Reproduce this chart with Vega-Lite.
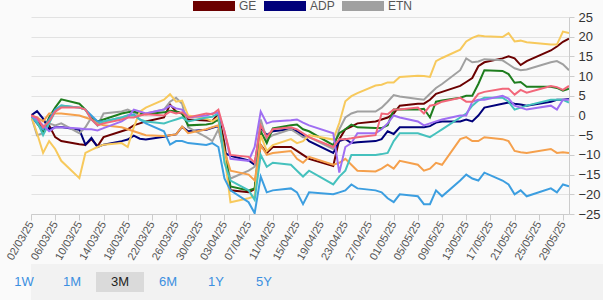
{
  "$schema": "https://vega.github.io/schema/vega-lite/v6.json",
  "background": "#fafafa",
  "padding": {"left": 4, "top": 0, "right": 0, "bottom": 0},
  "spacing": 2,
  "align": "none",
  "config": {"view": {"stroke": null}, "font": "Liberation Sans"},
  "resolve": {"scale": {"x": "independent", "y": "independent", "color": "independent"}, "legend": {"color": "independent"}},
  "vconcat": [
    {
      "width": 538,
      "height": 197,
      "data": {"values": [
        {"s":"GE","d":"2025/03/02","v":0},{"s":"GE","d":"2025/03/03","v":-1.5},{"s":"GE","d":"2025/03/04","v":-3},{"s":"GE","d":"2025/03/05","v":-2.5},{"s":"GE","d":"2025/03/06","v":-5.5},{"s":"GE","d":"2025/03/07","v":-6.5},{"s":"GE","d":"2025/03/10","v":-7.3},{"s":"GE","d":"2025/03/11","v":-7.5},{"s":"GE","d":"2025/03/12","v":-6},{"s":"GE","d":"2025/03/13","v":-7.8},{"s":"GE","d":"2025/03/14","v":-5.5},{"s":"GE","d":"2025/03/17","v":-4},{"s":"GE","d":"2025/03/18","v":-3.5},{"s":"GE","d":"2025/03/19","v":-2.5},{"s":"GE","d":"2025/03/20","v":-2},{"s":"GE","d":"2025/03/21","v":-1.5},{"s":"GE","d":"2025/03/24","v":-0.5},{"s":"GE","d":"2025/03/25","v":2.8},{"s":"GE","d":"2025/03/26","v":1},{"s":"GE","d":"2025/03/27","v":0.5},{"s":"GE","d":"2025/03/28","v":-1},{"s":"GE","d":"2025/03/31","v":-1.3},{"s":"GE","d":"2025/04/01","v":-1.4},{"s":"GE","d":"2025/04/02","v":0.5},{"s":"GE","d":"2025/04/03","v":-7},{"s":"GE","d":"2025/04/04","v":-19},{"s":"GE","d":"2025/04/07","v":-19.5},{"s":"GE","d":"2025/04/08","v":-18.7},{"s":"GE","d":"2025/04/09","v":-7.5},{"s":"GE","d":"2025/04/10","v":-9.5},{"s":"GE","d":"2025/04/11","v":-8},{"s":"GE","d":"2025/04/14","v":-8},{"s":"GE","d":"2025/04/15","v":-9},{"s":"GE","d":"2025/04/16","v":-10},{"s":"GE","d":"2025/04/17","v":-11},{"s":"GE","d":"2025/04/21","v":-12.8},{"s":"GE","d":"2025/04/22","v":-6},{"s":"GE","d":"2025/04/23","v":-3.5},{"s":"GE","d":"2025/04/24","v":-2.8},{"s":"GE","d":"2025/04/25","v":-2},{"s":"GE","d":"2025/04/28","v":-1.5},{"s":"GE","d":"2025/04/29","v":-1},{"s":"GE","d":"2025/04/30","v":-0.5},{"s":"GE","d":"2025/05/01","v":0.5},{"s":"GE","d":"2025/05/02","v":2.5},{"s":"GE","d":"2025/05/05","v":3},{"s":"GE","d":"2025/05/06","v":3},{"s":"GE","d":"2025/05/07","v":4},{"s":"GE","d":"2025/05/08","v":5.5},{"s":"GE","d":"2025/05/09","v":6},{"s":"GE","d":"2025/05/12","v":7.5},{"s":"GE","d":"2025/05/13","v":8.5},{"s":"GE","d":"2025/05/14","v":9.5},{"s":"GE","d":"2025/05/15","v":12.5},{"s":"GE","d":"2025/05/16","v":13.5},{"s":"GE","d":"2025/05/19","v":14.5},{"s":"GE","d":"2025/05/20","v":15},{"s":"GE","d":"2025/05/21","v":14.5},{"s":"GE","d":"2025/05/22","v":12.8},{"s":"GE","d":"2025/05/23","v":13.8},{"s":"GE","d":"2025/05/27","v":16.5},{"s":"GE","d":"2025/05/28","v":17.5},{"s":"GE","d":"2025/05/29","v":18.7},{"s":"GE","d":"2025/05/30","v":19.5},

        {"s":"ADP","d":"2025/03/02","v":0},{"s":"ADP","d":"2025/03/03","v":1.1},{"s":"ADP","d":"2025/03/04","v":-0.8},{"s":"ADP","d":"2025/03/05","v":-3.5},{"s":"ADP","d":"2025/03/06","v":-3},{"s":"ADP","d":"2025/03/07","v":-2.9},{"s":"ADP","d":"2025/03/10","v":-3.6},{"s":"ADP","d":"2025/03/11","v":-7.4},{"s":"ADP","d":"2025/03/12","v":-5.7},{"s":"ADP","d":"2025/03/13","v":-8},{"s":"ADP","d":"2025/03/14","v":-7.4},{"s":"ADP","d":"2025/03/17","v":-6.5},{"s":"ADP","d":"2025/03/18","v":-6.1},{"s":"ADP","d":"2025/03/19","v":-5.1},{"s":"ADP","d":"2025/03/20","v":-5.9},{"s":"ADP","d":"2025/03/21","v":-6.1},{"s":"ADP","d":"2025/03/24","v":-5.4},{"s":"ADP","d":"2025/03/25","v":-5},{"s":"ADP","d":"2025/03/26","v":-4.8},{"s":"ADP","d":"2025/03/27","v":-2.9},{"s":"ADP","d":"2025/03/28","v":-4},{"s":"ADP","d":"2025/03/31","v":-3.6},{"s":"ADP","d":"2025/04/01","v":-3.1},{"s":"ADP","d":"2025/04/02","v":-2.7},{"s":"ADP","d":"2025/04/03","v":-9.5},{"s":"ADP","d":"2025/04/04","v":-10.2},{"s":"ADP","d":"2025/04/07","v":-11.4},{"s":"ADP","d":"2025/04/08","v":-12.5},{"s":"ADP","d":"2025/04/09","v":-3},{"s":"ADP","d":"2025/04/10","v":-5},{"s":"ADP","d":"2025/04/11","v":-4},{"s":"ADP","d":"2025/04/14","v":-3.5},{"s":"ADP","d":"2025/04/15","v":-4},{"s":"ADP","d":"2025/04/16","v":-5},{"s":"ADP","d":"2025/04/17","v":-6.5},{"s":"ADP","d":"2025/04/21","v":-9.5},{"s":"ADP","d":"2025/04/22","v":-6.5},{"s":"ADP","d":"2025/04/23","v":-6},{"s":"ADP","d":"2025/04/24","v":-7},{"s":"ADP","d":"2025/04/25","v":-6.8},{"s":"ADP","d":"2025/04/28","v":-6.5},{"s":"ADP","d":"2025/04/29","v":-6},{"s":"ADP","d":"2025/04/30","v":-4},{"s":"ADP","d":"2025/05/01","v":-4.7},{"s":"ADP","d":"2025/05/02","v":-3},{"s":"ADP","d":"2025/05/05","v":-3},{"s":"ADP","d":"2025/05/06","v":-3},{"s":"ADP","d":"2025/05/07","v":-2.7},{"s":"ADP","d":"2025/05/08","v":-1.8},{"s":"ADP","d":"2025/05/09","v":-1.5},{"s":"ADP","d":"2025/05/12","v":-1.5},{"s":"ADP","d":"2025/05/13","v":-1},{"s":"ADP","d":"2025/05/14","v":-1.5},{"s":"ADP","d":"2025/05/15","v":0},{"s":"ADP","d":"2025/05/16","v":2},{"s":"ADP","d":"2025/05/19","v":3},{"s":"ADP","d":"2025/05/20","v":3.3},{"s":"ADP","d":"2025/05/21","v":3},{"s":"ADP","d":"2025/05/22","v":2.8},{"s":"ADP","d":"2025/05/23","v":2.5},{"s":"ADP","d":"2025/05/27","v":3.5},{"s":"ADP","d":"2025/05/28","v":4},{"s":"ADP","d":"2025/05/29","v":4},{"s":"ADP","d":"2025/05/30","v":4.2},

        {"s":"ETN","d":"2025/03/02","v":0},{"s":"ETN","d":"2025/03/03","v":-5},{"s":"ETN","d":"2025/03/04","v":-4.5},{"s":"ETN","d":"2025/03/05","v":-2},{"s":"ETN","d":"2025/03/06","v":-2.5},{"s":"ETN","d":"2025/03/07","v":-2},{"s":"ETN","d":"2025/03/10","v":-4.5},{"s":"ETN","d":"2025/03/11","v":-3},{"s":"ETN","d":"2025/03/12","v":-0.5},{"s":"ETN","d":"2025/03/13","v":-2.5},{"s":"ETN","d":"2025/03/14","v":0.5},{"s":"ETN","d":"2025/03/17","v":1},{"s":"ETN","d":"2025/03/18","v":1.5},{"s":"ETN","d":"2025/03/19","v":0.8},{"s":"ETN","d":"2025/03/20","v":0},{"s":"ETN","d":"2025/03/21","v":0.5},{"s":"ETN","d":"2025/03/24","v":1.5},{"s":"ETN","d":"2025/03/25","v":3.5},{"s":"ETN","d":"2025/03/26","v":4.5},{"s":"ETN","d":"2025/03/27","v":3},{"s":"ETN","d":"2025/03/28","v":-3},{"s":"ETN","d":"2025/03/31","v":-5.5},{"s":"ETN","d":"2025/04/01","v":-6.5},{"s":"ETN","d":"2025/04/02","v":-3.5},{"s":"ETN","d":"2025/04/03","v":-10},{"s":"ETN","d":"2025/04/04","v":-16},{"s":"ETN","d":"2025/04/07","v":-14},{"s":"ETN","d":"2025/04/08","v":-13},{"s":"ETN","d":"2025/04/09","v":-1},{"s":"ETN","d":"2025/04/10","v":-6},{"s":"ETN","d":"2025/04/11","v":-5},{"s":"ETN","d":"2025/04/14","v":-3.5},{"s":"ETN","d":"2025/04/15","v":-4.5},{"s":"ETN","d":"2025/04/16","v":-5.5},{"s":"ETN","d":"2025/04/17","v":-5.5},{"s":"ETN","d":"2025/04/21","v":-8.5},{"s":"ETN","d":"2025/04/22","v":-3.5},{"s":"ETN","d":"2025/04/23","v":-0.5},{"s":"ETN","d":"2025/04/24","v":0.5},{"s":"ETN","d":"2025/04/25","v":1},{"s":"ETN","d":"2025/04/28","v":1},{"s":"ETN","d":"2025/04/29","v":2},{"s":"ETN","d":"2025/04/30","v":3.5},{"s":"ETN","d":"2025/05/01","v":5.2},{"s":"ETN","d":"2025/05/02","v":4.8},{"s":"ETN","d":"2025/05/05","v":4.2},{"s":"ETN","d":"2025/05/06","v":4},{"s":"ETN","d":"2025/05/07","v":5.5},{"s":"ETN","d":"2025/05/08","v":7},{"s":"ETN","d":"2025/05/09","v":8},{"s":"ETN","d":"2025/05/12","v":11.5},{"s":"ETN","d":"2025/05/13","v":14.5},{"s":"ETN","d":"2025/05/14","v":13.5},{"s":"ETN","d":"2025/05/15","v":13.7},{"s":"ETN","d":"2025/05/16","v":14.3},{"s":"ETN","d":"2025/05/19","v":14},{"s":"ETN","d":"2025/05/20","v":13},{"s":"ETN","d":"2025/05/21","v":12},{"s":"ETN","d":"2025/05/22","v":11.5},{"s":"ETN","d":"2025/05/23","v":11.7},{"s":"ETN","d":"2025/05/27","v":13.5},{"s":"ETN","d":"2025/05/28","v":13.8},{"s":"ETN","d":"2025/05/29","v":13},{"s":"ETN","d":"2025/05/30","v":11.5},

        {"s":"Peer A","d":"2025/03/02","v":0},{"s":"Peer A","d":"2025/03/03","v":-2},{"s":"Peer A","d":"2025/03/04","v":-4},{"s":"Peer A","d":"2025/03/05","v":-0.5},{"s":"Peer A","d":"2025/03/06","v":2},{"s":"Peer A","d":"2025/03/07","v":4.1},{"s":"Peer A","d":"2025/03/10","v":3},{"s":"Peer A","d":"2025/03/11","v":1.5},{"s":"Peer A","d":"2025/03/12","v":-0.5},{"s":"Peer A","d":"2025/03/13","v":-1.5},{"s":"Peer A","d":"2025/03/14","v":-1},{"s":"Peer A","d":"2025/03/17","v":0.5},{"s":"Peer A","d":"2025/03/18","v":0.8},{"s":"Peer A","d":"2025/03/19","v":1},{"s":"Peer A","d":"2025/03/20","v":0.5},{"s":"Peer A","d":"2025/03/21","v":0.3},{"s":"Peer A","d":"2025/03/24","v":0.8},{"s":"Peer A","d":"2025/03/25","v":1.2},{"s":"Peer A","d":"2025/03/26","v":1},{"s":"Peer A","d":"2025/03/27","v":0.5},{"s":"Peer A","d":"2025/03/28","v":-2.5},{"s":"Peer A","d":"2025/03/31","v":-2.3},{"s":"Peer A","d":"2025/04/01","v":-2},{"s":"Peer A","d":"2025/04/02","v":-1},{"s":"Peer A","d":"2025/04/03","v":-8.5},{"s":"Peer A","d":"2025/04/04","v":-18},{"s":"Peer A","d":"2025/04/07","v":-19},{"s":"Peer A","d":"2025/04/08","v":-18.5},{"s":"Peer A","d":"2025/04/09","v":-4},{"s":"Peer A","d":"2025/04/10","v":-7},{"s":"Peer A","d":"2025/04/11","v":-3.3},{"s":"Peer A","d":"2025/04/14","v":-2.5},{"s":"Peer A","d":"2025/04/15","v":-2.3},{"s":"Peer A","d":"2025/04/16","v":-3.5},{"s":"Peer A","d":"2025/04/17","v":-4},{"s":"Peer A","d":"2025/04/21","v":-7.5},{"s":"Peer A","d":"2025/04/22","v":-4.5},{"s":"Peer A","d":"2025/04/23","v":-3.5},{"s":"Peer A","d":"2025/04/24","v":-2.3},{"s":"Peer A","d":"2025/04/25","v":-3},{"s":"Peer A","d":"2025/04/28","v":-3.2},{"s":"Peer A","d":"2025/04/29","v":-3.2},{"s":"Peer A","d":"2025/04/30","v":-2.5},{"s":"Peer A","d":"2025/05/01","v":1.5},{"s":"Peer A","d":"2025/05/02","v":1.5},{"s":"Peer A","d":"2025/05/05","v":1.5},{"s":"Peer A","d":"2025/05/06","v":1.7},{"s":"Peer A","d":"2025/05/07","v":-0.5},{"s":"Peer A","d":"2025/05/08","v":3.5},{"s":"Peer A","d":"2025/05/09","v":3.8},{"s":"Peer A","d":"2025/05/12","v":4.5},{"s":"Peer A","d":"2025/05/13","v":5},{"s":"Peer A","d":"2025/05/14","v":5},{"s":"Peer A","d":"2025/05/15","v":8},{"s":"Peer A","d":"2025/05/16","v":11.5},{"s":"Peer A","d":"2025/05/19","v":11.3},{"s":"Peer A","d":"2025/05/20","v":10.5},{"s":"Peer A","d":"2025/05/21","v":8.3},{"s":"Peer A","d":"2025/05/22","v":8.5},{"s":"Peer A","d":"2025/05/23","v":7.3},{"s":"Peer A","d":"2025/05/27","v":7.3},{"s":"Peer A","d":"2025/05/28","v":7},{"s":"Peer A","d":"2025/05/29","v":6.3},{"s":"Peer A","d":"2025/05/30","v":6.8},

        {"s":"Peer B","d":"2025/03/02","v":0},{"s":"Peer B","d":"2025/03/03","v":-4.5},{"s":"Peer B","d":"2025/03/04","v":-9.5},{"s":"Peer B","d":"2025/03/05","v":-6.5},{"s":"Peer B","d":"2025/03/06","v":-8.5},{"s":"Peer B","d":"2025/03/07","v":-11.5},{"s":"Peer B","d":"2025/03/10","v":-15.9},{"s":"Peer B","d":"2025/03/11","v":-9.5},{"s":"Peer B","d":"2025/03/12","v":-8.7},{"s":"Peer B","d":"2025/03/13","v":-8},{"s":"Peer B","d":"2025/03/14","v":-7.4},{"s":"Peer B","d":"2025/03/17","v":-7},{"s":"Peer B","d":"2025/03/18","v":-8},{"s":"Peer B","d":"2025/03/19","v":-3},{"s":"Peer B","d":"2025/03/20","v":1},{"s":"Peer B","d":"2025/03/21","v":2},{"s":"Peer B","d":"2025/03/24","v":4},{"s":"Peer B","d":"2025/03/25","v":5.4},{"s":"Peer B","d":"2025/03/26","v":3.5},{"s":"Peer B","d":"2025/03/27","v":3.8},{"s":"Peer B","d":"2025/03/28","v":0},{"s":"Peer B","d":"2025/03/31","v":-0.8},{"s":"Peer B","d":"2025/04/01","v":-1.5},{"s":"Peer B","d":"2025/04/02","v":-0.5},{"s":"Peer B","d":"2025/04/03","v":-10},{"s":"Peer B","d":"2025/04/04","v":-22},{"s":"Peer B","d":"2025/04/07","v":-21},{"s":"Peer B","d":"2025/04/08","v":-20.5},{"s":"Peer B","d":"2025/04/09","v":-5},{"s":"Peer B","d":"2025/04/10","v":-9},{"s":"Peer B","d":"2025/04/11","v":-7.5},{"s":"Peer B","d":"2025/04/14","v":-6},{"s":"Peer B","d":"2025/04/15","v":-7},{"s":"Peer B","d":"2025/04/16","v":-6.5},{"s":"Peer B","d":"2025/04/17","v":-5},{"s":"Peer B","d":"2025/04/21","v":-6.1},{"s":"Peer B","d":"2025/04/22","v":-1.9},{"s":"Peer B","d":"2025/04/23","v":3.6},{"s":"Peer B","d":"2025/04/24","v":4.9},{"s":"Peer B","d":"2025/04/25","v":5.7},{"s":"Peer B","d":"2025/04/28","v":7.6},{"s":"Peer B","d":"2025/04/29","v":7.8},{"s":"Peer B","d":"2025/04/30","v":8.4},{"s":"Peer B","d":"2025/05/01","v":8.4},{"s":"Peer B","d":"2025/05/02","v":9.8},{"s":"Peer B","d":"2025/05/05","v":10.1},{"s":"Peer B","d":"2025/05/06","v":10},{"s":"Peer B","d":"2025/05/07","v":9.8},{"s":"Peer B","d":"2025/05/08","v":13.8},{"s":"Peer B","d":"2025/05/09","v":14.6},{"s":"Peer B","d":"2025/05/12","v":16.7},{"s":"Peer B","d":"2025/05/13","v":18.8},{"s":"Peer B","d":"2025/05/14","v":19.7},{"s":"Peer B","d":"2025/05/15","v":20.3},{"s":"Peer B","d":"2025/05/16","v":20.1},{"s":"Peer B","d":"2025/05/19","v":19.9},{"s":"Peer B","d":"2025/05/20","v":20.9},{"s":"Peer B","d":"2025/05/21","v":18.8},{"s":"Peer B","d":"2025/05/22","v":19},{"s":"Peer B","d":"2025/05/23","v":18.6},{"s":"Peer B","d":"2025/05/27","v":18},{"s":"Peer B","d":"2025/05/28","v":18},{"s":"Peer B","d":"2025/05/29","v":21.3},{"s":"Peer B","d":"2025/05/30","v":20.9},

        {"s":"Peer C","d":"2025/03/02","v":0},{"s":"Peer C","d":"2025/03/03","v":-0.5},{"s":"Peer C","d":"2025/03/04","v":-1.5},{"s":"Peer C","d":"2025/03/05","v":0.5},{"s":"Peer C","d":"2025/03/06","v":0.5},{"s":"Peer C","d":"2025/03/07","v":0.5},{"s":"Peer C","d":"2025/03/10","v":0},{"s":"Peer C","d":"2025/03/11","v":-0.5},{"s":"Peer C","d":"2025/03/12","v":-1},{"s":"Peer C","d":"2025/03/13","v":-2},{"s":"Peer C","d":"2025/03/14","v":-2.5},{"s":"Peer C","d":"2025/03/17","v":-3},{"s":"Peer C","d":"2025/03/18","v":-3.5},{"s":"Peer C","d":"2025/03/19","v":-4},{"s":"Peer C","d":"2025/03/20","v":-4.5},{"s":"Peer C","d":"2025/03/21","v":-5},{"s":"Peer C","d":"2025/03/24","v":-5.2},{"s":"Peer C","d":"2025/03/25","v":-5},{"s":"Peer C","d":"2025/03/26","v":-4.8},{"s":"Peer C","d":"2025/03/27","v":-2.8},{"s":"Peer C","d":"2025/03/28","v":-4.5},{"s":"Peer C","d":"2025/03/31","v":-3.5},{"s":"Peer C","d":"2025/04/01","v":-3},{"s":"Peer C","d":"2025/04/02","v":-2.5},{"s":"Peer C","d":"2025/04/03","v":-9},{"s":"Peer C","d":"2025/04/04","v":-14},{"s":"Peer C","d":"2025/04/07","v":-15},{"s":"Peer C","d":"2025/04/08","v":-16.5},{"s":"Peer C","d":"2025/04/09","v":-7.5},{"s":"Peer C","d":"2025/04/10","v":-10},{"s":"Peer C","d":"2025/04/11","v":-9.5},{"s":"Peer C","d":"2025/04/14","v":-9},{"s":"Peer C","d":"2025/04/15","v":-11},{"s":"Peer C","d":"2025/04/16","v":-12},{"s":"Peer C","d":"2025/04/17","v":-10.5},{"s":"Peer C","d":"2025/04/21","v":-12.5},{"s":"Peer C","d":"2025/04/22","v":-12},{"s":"Peer C","d":"2025/04/23","v":-11},{"s":"Peer C","d":"2025/04/24","v":-12.5},{"s":"Peer C","d":"2025/04/25","v":-14},{"s":"Peer C","d":"2025/04/28","v":-14.2},{"s":"Peer C","d":"2025/04/29","v":-13.5},{"s":"Peer C","d":"2025/04/30","v":-12.5},{"s":"Peer C","d":"2025/05/01","v":-13.5},{"s":"Peer C","d":"2025/05/02","v":-11.5},{"s":"Peer C","d":"2025/05/05","v":-12.5},{"s":"Peer C","d":"2025/05/06","v":-14},{"s":"Peer C","d":"2025/05/07","v":-13.5},{"s":"Peer C","d":"2025/05/08","v":-12},{"s":"Peer C","d":"2025/05/09","v":-12.5},{"s":"Peer C","d":"2025/05/12","v":-6},{"s":"Peer C","d":"2025/05/13","v":-5.5},{"s":"Peer C","d":"2025/05/14","v":-6.5},{"s":"Peer C","d":"2025/05/15","v":-6.5},{"s":"Peer C","d":"2025/05/16","v":-5.5},{"s":"Peer C","d":"2025/05/19","v":-6},{"s":"Peer C","d":"2025/05/20","v":-6.5},{"s":"Peer C","d":"2025/05/21","v":-9},{"s":"Peer C","d":"2025/05/22","v":-9.3},{"s":"Peer C","d":"2025/05/23","v":-9.5},{"s":"Peer C","d":"2025/05/27","v":-8.5},{"s":"Peer C","d":"2025/05/28","v":-9.5},{"s":"Peer C","d":"2025/05/29","v":-9.3},{"s":"Peer C","d":"2025/05/30","v":-9.5},

        {"s":"Peer D","d":"2025/03/02","v":0},{"s":"Peer D","d":"2025/03/03","v":-2},{"s":"Peer D","d":"2025/03/04","v":-3.5},{"s":"Peer D","d":"2025/03/05","v":-1},{"s":"Peer D","d":"2025/03/06","v":1.5},{"s":"Peer D","d":"2025/03/07","v":2.5},{"s":"Peer D","d":"2025/03/10","v":2},{"s":"Peer D","d":"2025/03/11","v":1.5},{"s":"Peer D","d":"2025/03/12","v":0},{"s":"Peer D","d":"2025/03/13","v":-1.5},{"s":"Peer D","d":"2025/03/14","v":-1.5},{"s":"Peer D","d":"2025/03/17","v":-0.5},{"s":"Peer D","d":"2025/03/18","v":0},{"s":"Peer D","d":"2025/03/19","v":0.3},{"s":"Peer D","d":"2025/03/20","v":-1},{"s":"Peer D","d":"2025/03/21","v":-2},{"s":"Peer D","d":"2025/03/24","v":-4},{"s":"Peer D","d":"2025/03/25","v":-7.4},{"s":"Peer D","d":"2025/03/26","v":-6.5},{"s":"Peer D","d":"2025/03/27","v":-6.5},{"s":"Peer D","d":"2025/03/28","v":-7},{"s":"Peer D","d":"2025/03/31","v":-7.5},{"s":"Peer D","d":"2025/04/01","v":-7},{"s":"Peer D","d":"2025/04/02","v":-8},{"s":"Peer D","d":"2025/04/03","v":-16},{"s":"Peer D","d":"2025/04/04","v":-19},{"s":"Peer D","d":"2025/04/07","v":-22},{"s":"Peer D","d":"2025/04/08","v":-24.8},{"s":"Peer D","d":"2025/04/09","v":-15.5},{"s":"Peer D","d":"2025/04/10","v":-19.5},{"s":"Peer D","d":"2025/04/11","v":-19},{"s":"Peer D","d":"2025/04/14","v":-18.5},{"s":"Peer D","d":"2025/04/15","v":-19.5},{"s":"Peer D","d":"2025/04/16","v":-22.5},{"s":"Peer D","d":"2025/04/17","v":-19.5},{"s":"Peer D","d":"2025/04/21","v":-20},{"s":"Peer D","d":"2025/04/22","v":-19.5},{"s":"Peer D","d":"2025/04/23","v":-19},{"s":"Peer D","d":"2025/04/24","v":-17.5},{"s":"Peer D","d":"2025/04/25","v":-18.5},{"s":"Peer D","d":"2025/04/28","v":-19},{"s":"Peer D","d":"2025/04/29","v":-19.5},{"s":"Peer D","d":"2025/04/30","v":-21},{"s":"Peer D","d":"2025/05/01","v":-22},{"s":"Peer D","d":"2025/05/02","v":-20},{"s":"Peer D","d":"2025/05/05","v":-20.5},{"s":"Peer D","d":"2025/05/06","v":-22.5},{"s":"Peer D","d":"2025/05/07","v":-22.5},{"s":"Peer D","d":"2025/05/08","v":-19},{"s":"Peer D","d":"2025/05/09","v":-20.5},{"s":"Peer D","d":"2025/05/12","v":-16.5},{"s":"Peer D","d":"2025/05/13","v":-15},{"s":"Peer D","d":"2025/05/14","v":-16},{"s":"Peer D","d":"2025/05/15","v":-16.5},{"s":"Peer D","d":"2025/05/16","v":-14.5},{"s":"Peer D","d":"2025/05/19","v":-16.5},{"s":"Peer D","d":"2025/05/20","v":-17.5},{"s":"Peer D","d":"2025/05/21","v":-20},{"s":"Peer D","d":"2025/05/22","v":-19},{"s":"Peer D","d":"2025/05/23","v":-20.5},{"s":"Peer D","d":"2025/05/27","v":-18.5},{"s":"Peer D","d":"2025/05/28","v":-19.5},{"s":"Peer D","d":"2025/05/29","v":-17.5},{"s":"Peer D","d":"2025/05/30","v":-18},

        {"s":"Peer E","d":"2025/03/02","v":0},{"s":"Peer E","d":"2025/03/03","v":-1.5},{"s":"Peer E","d":"2025/03/04","v":-5},{"s":"Peer E","d":"2025/03/05","v":-2},{"s":"Peer E","d":"2025/03/06","v":1},{"s":"Peer E","d":"2025/03/07","v":2.5},{"s":"Peer E","d":"2025/03/10","v":2},{"s":"Peer E","d":"2025/03/11","v":1.5},{"s":"Peer E","d":"2025/03/12","v":-1},{"s":"Peer E","d":"2025/03/13","v":-2.5},{"s":"Peer E","d":"2025/03/14","v":-1.5},{"s":"Peer E","d":"2025/03/17","v":-0.5},{"s":"Peer E","d":"2025/03/18","v":0},{"s":"Peer E","d":"2025/03/19","v":0},{"s":"Peer E","d":"2025/03/20","v":-1},{"s":"Peer E","d":"2025/03/21","v":-1.5},{"s":"Peer E","d":"2025/03/24","v":-2},{"s":"Peer E","d":"2025/03/25","v":-1.5},{"s":"Peer E","d":"2025/03/26","v":-1},{"s":"Peer E","d":"2025/03/27","v":-0.5},{"s":"Peer E","d":"2025/03/28","v":-1.5},{"s":"Peer E","d":"2025/03/31","v":-0.5},{"s":"Peer E","d":"2025/04/01","v":-0.3},{"s":"Peer E","d":"2025/04/02","v":0.5},{"s":"Peer E","d":"2025/04/03","v":-12},{"s":"Peer E","d":"2025/04/04","v":-16.5},{"s":"Peer E","d":"2025/04/07","v":-19},{"s":"Peer E","d":"2025/04/08","v":-21.4},{"s":"Peer E","d":"2025/04/09","v":-10},{"s":"Peer E","d":"2025/04/10","v":-13},{"s":"Peer E","d":"2025/04/11","v":-12},{"s":"Peer E","d":"2025/04/14","v":-12.5},{"s":"Peer E","d":"2025/04/15","v":-14},{"s":"Peer E","d":"2025/04/16","v":-15.5},{"s":"Peer E","d":"2025/04/17","v":-14},{"s":"Peer E","d":"2025/04/21","v":-17.5},{"s":"Peer E","d":"2025/04/22","v":-15.5},{"s":"Peer E","d":"2025/04/23","v":-14},{"s":"Peer E","d":"2025/04/24","v":-10},{"s":"Peer E","d":"2025/04/25","v":-10},{"s":"Peer E","d":"2025/04/28","v":-10},{"s":"Peer E","d":"2025/04/29","v":-9.8},{"s":"Peer E","d":"2025/04/30","v":-9.5},{"s":"Peer E","d":"2025/05/01","v":-6.5},{"s":"Peer E","d":"2025/05/02","v":-4.5},{"s":"Peer E","d":"2025/05/05","v":-4.5},{"s":"Peer E","d":"2025/05/06","v":-5},{"s":"Peer E","d":"2025/05/07","v":-5.5},{"s":"Peer E","d":"2025/05/08","v":-4.5},{"s":"Peer E","d":"2025/05/09","v":-3.5},{"s":"Peer E","d":"2025/05/12","v":-0.5},{"s":"Peer E","d":"2025/05/13","v":0.5},{"s":"Peer E","d":"2025/05/14","v":2.5},{"s":"Peer E","d":"2025/05/15","v":3.8},{"s":"Peer E","d":"2025/05/16","v":4.5},{"s":"Peer E","d":"2025/05/19","v":4.5},{"s":"Peer E","d":"2025/05/20","v":3.5},{"s":"Peer E","d":"2025/05/21","v":1.5},{"s":"Peer E","d":"2025/05/22","v":2},{"s":"Peer E","d":"2025/05/23","v":2.5},{"s":"Peer E","d":"2025/05/27","v":4},{"s":"Peer E","d":"2025/05/28","v":4},{"s":"Peer E","d":"2025/05/29","v":4},{"s":"Peer E","d":"2025/05/30","v":3.3},

        {"s":"Peer F","d":"2025/03/02","v":0},{"s":"Peer F","d":"2025/03/03","v":-1},{"s":"Peer F","d":"2025/03/04","v":-2.5},{"s":"Peer F","d":"2025/03/05","v":-4},{"s":"Peer F","d":"2025/03/06","v":-3},{"s":"Peer F","d":"2025/03/07","v":-3},{"s":"Peer F","d":"2025/03/10","v":-3.3},{"s":"Peer F","d":"2025/03/11","v":-3.5},{"s":"Peer F","d":"2025/03/12","v":-3.5},{"s":"Peer F","d":"2025/03/13","v":-3.8},{"s":"Peer F","d":"2025/03/14","v":-3.2},{"s":"Peer F","d":"2025/03/17","v":-1.5},{"s":"Peer F","d":"2025/03/18","v":-0.5},{"s":"Peer F","d":"2025/03/19","v":1.5},{"s":"Peer F","d":"2025/03/20","v":1},{"s":"Peer F","d":"2025/03/21","v":0.5},{"s":"Peer F","d":"2025/03/24","v":1.5},{"s":"Peer F","d":"2025/03/25","v":2.5},{"s":"Peer F","d":"2025/03/26","v":1.8},{"s":"Peer F","d":"2025/03/27","v":1.5},{"s":"Peer F","d":"2025/03/28","v":-0.5},{"s":"Peer F","d":"2025/03/31","v":0},{"s":"Peer F","d":"2025/04/01","v":0.5},{"s":"Peer F","d":"2025/04/02","v":0.8},{"s":"Peer F","d":"2025/04/03","v":-4},{"s":"Peer F","d":"2025/04/04","v":-11},{"s":"Peer F","d":"2025/04/07","v":-11.5},{"s":"Peer F","d":"2025/04/08","v":-8},{"s":"Peer F","d":"2025/04/09","v":1},{"s":"Peer F","d":"2025/04/10","v":-2},{"s":"Peer F","d":"2025/04/11","v":-1.5},{"s":"Peer F","d":"2025/04/14","v":-1.2},{"s":"Peer F","d":"2025/04/15","v":-1},{"s":"Peer F","d":"2025/04/16","v":-1.8},{"s":"Peer F","d":"2025/04/17","v":-2.5},{"s":"Peer F","d":"2025/04/21","v":-4.5},{"s":"Peer F","d":"2025/04/22","v":-14.5},{"s":"Peer F","d":"2025/04/23","v":-8},{"s":"Peer F","d":"2025/04/24","v":-7},{"s":"Peer F","d":"2025/04/25","v":-4.5},{"s":"Peer F","d":"2025/04/28","v":-4.5},{"s":"Peer F","d":"2025/04/29","v":-3.5},{"s":"Peer F","d":"2025/04/30","v":-2},{"s":"Peer F","d":"2025/05/01","v":0},{"s":"Peer F","d":"2025/05/02","v":-0.5},{"s":"Peer F","d":"2025/05/05","v":-1.5},{"s":"Peer F","d":"2025/05/06","v":-2.5},{"s":"Peer F","d":"2025/05/07","v":-2},{"s":"Peer F","d":"2025/05/08","v":-1.5},{"s":"Peer F","d":"2025/05/09","v":-1},{"s":"Peer F","d":"2025/05/12","v":0},{"s":"Peer F","d":"2025/05/13","v":0},{"s":"Peer F","d":"2025/05/14","v":3.5},{"s":"Peer F","d":"2025/05/15","v":4},{"s":"Peer F","d":"2025/05/16","v":4},{"s":"Peer F","d":"2025/05/19","v":5},{"s":"Peer F","d":"2025/05/20","v":4.3},{"s":"Peer F","d":"2025/05/21","v":2.5},{"s":"Peer F","d":"2025/05/22","v":2},{"s":"Peer F","d":"2025/05/23","v":1.5},{"s":"Peer F","d":"2025/05/27","v":2.5},{"s":"Peer F","d":"2025/05/28","v":1.5},{"s":"Peer F","d":"2025/05/29","v":4},{"s":"Peer F","d":"2025/05/30","v":4},

        {"s":"Peer G","d":"2025/03/02","v":0},{"s":"Peer G","d":"2025/03/03","v":-0.5},{"s":"Peer G","d":"2025/03/04","v":-3},{"s":"Peer G","d":"2025/03/05","v":-1.5},{"s":"Peer G","d":"2025/03/06","v":1},{"s":"Peer G","d":"2025/03/07","v":2},{"s":"Peer G","d":"2025/03/10","v":2},{"s":"Peer G","d":"2025/03/11","v":1.5},{"s":"Peer G","d":"2025/03/12","v":-1},{"s":"Peer G","d":"2025/03/13","v":-2.5},{"s":"Peer G","d":"2025/03/14","v":-2},{"s":"Peer G","d":"2025/03/17","v":-1},{"s":"Peer G","d":"2025/03/18","v":-0.5},{"s":"Peer G","d":"2025/03/19","v":-0.5},{"s":"Peer G","d":"2025/03/20","v":0},{"s":"Peer G","d":"2025/03/21","v":0.3},{"s":"Peer G","d":"2025/03/24","v":0},{"s":"Peer G","d":"2025/03/25","v":1},{"s":"Peer G","d":"2025/03/26","v":0.5},{"s":"Peer G","d":"2025/03/27","v":0.8},{"s":"Peer G","d":"2025/03/28","v":-0.5},{"s":"Peer G","d":"2025/03/31","v":0.5},{"s":"Peer G","d":"2025/04/01","v":0.3},{"s":"Peer G","d":"2025/04/02","v":1.5},{"s":"Peer G","d":"2025/04/03","v":-4},{"s":"Peer G","d":"2025/04/04","v":-10},{"s":"Peer G","d":"2025/04/07","v":-10.5},{"s":"Peer G","d":"2025/04/08","v":-12},{"s":"Peer G","d":"2025/04/09","v":-2.5},{"s":"Peer G","d":"2025/04/10","v":-5.5},{"s":"Peer G","d":"2025/04/11","v":-3.5},{"s":"Peer G","d":"2025/04/14","v":-3},{"s":"Peer G","d":"2025/04/15","v":-3.5},{"s":"Peer G","d":"2025/04/16","v":-4.5},{"s":"Peer G","d":"2025/04/17","v":-5.5},{"s":"Peer G","d":"2025/04/21","v":-8},{"s":"Peer G","d":"2025/04/22","v":-6},{"s":"Peer G","d":"2025/04/23","v":-6},{"s":"Peer G","d":"2025/04/24","v":-5.8},{"s":"Peer G","d":"2025/04/25","v":-5.5},{"s":"Peer G","d":"2025/04/28","v":-5},{"s":"Peer G","d":"2025/04/29","v":0.5},{"s":"Peer G","d":"2025/04/30","v":0.3},{"s":"Peer G","d":"2025/05/01","v":1.5},{"s":"Peer G","d":"2025/05/02","v":1.5},{"s":"Peer G","d":"2025/05/05","v":2},{"s":"Peer G","d":"2025/05/06","v":0.5},{"s":"Peer G","d":"2025/05/07","v":2.5},{"s":"Peer G","d":"2025/05/08","v":2.8},{"s":"Peer G","d":"2025/05/09","v":3.5},{"s":"Peer G","d":"2025/05/12","v":4.5},{"s":"Peer G","d":"2025/05/13","v":3.5},{"s":"Peer G","d":"2025/05/14","v":3.5},{"s":"Peer G","d":"2025/05/15","v":5.5},{"s":"Peer G","d":"2025/05/16","v":6},{"s":"Peer G","d":"2025/05/19","v":6.8},{"s":"Peer G","d":"2025/05/20","v":6.8},{"s":"Peer G","d":"2025/05/21","v":5.3},{"s":"Peer G","d":"2025/05/22","v":6.5},{"s":"Peer G","d":"2025/05/23","v":5.8},{"s":"Peer G","d":"2025/05/27","v":7.5},{"s":"Peer G","d":"2025/05/28","v":7.2},{"s":"Peer G","d":"2025/05/29","v":6.5},{"s":"Peer G","d":"2025/05/30","v":7.5}
      ]},
      "mark": {"type": "line", "strokeWidth": 2, "clip": true},
      "encoding": {
        "x": {
          "field": "d", "type": "temporal",
          "scale": {"domain": [{"year": 2025, "month": 3, "date": 2}, {"year": 2025, "month": 5, "date": 30}]},
          "axis": {
            "title": null, "grid": false, "format": "%d/%m/%y",
            "values": [
              {"year": 2025, "month": 3, "date": 2}, {"year": 2025, "month": 3, "date": 6}, {"year": 2025, "month": 3, "date": 10},
              {"year": 2025, "month": 3, "date": 14}, {"year": 2025, "month": 3, "date": 18}, {"year": 2025, "month": 3, "date": 22},
              {"year": 2025, "month": 3, "date": 26}, {"year": 2025, "month": 3, "date": 30}, {"year": 2025, "month": 4, "date": 3},
              {"year": 2025, "month": 4, "date": 7}, {"year": 2025, "month": 4, "date": 11}, {"year": 2025, "month": 4, "date": 15},
              {"year": 2025, "month": 4, "date": 19}, {"year": 2025, "month": 4, "date": 23}, {"year": 2025, "month": 4, "date": 27},
              {"year": 2025, "month": 5, "date": 1}, {"year": 2025, "month": 5, "date": 5}, {"year": 2025, "month": 5, "date": 9},
              {"year": 2025, "month": 5, "date": 13}, {"year": 2025, "month": 5, "date": 17}, {"year": 2025, "month": 5, "date": 21},
              {"year": 2025, "month": 5, "date": 25}, {"year": 2025, "month": 5, "date": 29}
            ],
            "labelAngle": -60, "labelFontSize": 11, "labelColor": "#555555", "labelPadding": 2,
            "labelOverlap": false, "labelFlush": false,
            "tickColor": "#cccccc", "tickSize": 6, "domainColor": "#cccccc"
          }
        },
        "y": {
          "field": "v", "type": "quantitative",
          "scale": {"domain": [-25, 25], "nice": false},
          "axis": {
            "orient": "right", "title": null, "values": [-25, -20, -15, -10, -5, 0, 5, 10, 15, 20, 25],
            "grid": true, "gridColor": "#e2e2e2", "domainColor": "#cccccc", "tickColor": "#cccccc", "tickSize": 5,
            "labelFontSize": 13, "labelColor": "#333333", "labelPadding": 4, "labelFlush": false
          }
        },
        "color": {
          "field": "s", "type": "nominal",
          "scale": {
            "domain": ["Peer A", "Peer B", "Peer C", "Peer D", "Peer E", "Peer F", "Peer G", "ETN", "ADP", "GE"],
            "range": ["#1e7d1e", "#f7c95c", "#f5a04c", "#3c9ee0", "#45c1bd", "#9f6ef2", "#f2677a", "#a0a0a0", "#00007a", "#6b0000"]
          },
          "legend": {
            "values": ["GE", "ADP", "ETN"], "orient": "none", "legendX": 177, "legendY": -17,
            "direction": "horizontal", "title": null, "symbolType": "M-21,0H21", "symbolSize": 4,
            "symbolStrokeWidth": 10, "labelFontSize": 12, "labelColor": "#555555", "columnPadding": -13, "labelOffset": 19
          }
        }
      }
    },
    {
      "width": 572,
      "height": 36,
      "view": {"fill": "#f2f2f2", "stroke": null},
      "data": {"values": [{"b": "1W"}, {"b": "1M"}, {"b": "3M"}, {"b": "6M"}, {"b": "1Y"}, {"b": "5Y"}]},
      "encoding": {
        "x": {"field": "b", "type": "nominal", "axis": null,
              "scale": {"type": "band", "domain": ["1W", "1M", "3M", "6M", "1Y", "5Y"], "range": [-31, 257], "paddingInner": 0, "paddingOuter": 0}},
        "y": {"datum": "row", "type": "nominal", "axis": null, "scale": {"paddingInner": 0, "paddingOuter": 0.4}}
      },
      "layer": [
        {"transform": [{"filter": "datum.b === '3M'"}], "mark": {"type": "rect", "color": "#dadada", "clip": false}},
        {"mark": {"type": "text", "fontSize": 13, "clip": false},
         "encoding": {"text": {"field": "b"},
                      "color": {"condition": {"test": "datum.b === '3M'", "value": "#222222"}, "value": "#3b8fe0"}}}
      ]
    }
  ]
}
